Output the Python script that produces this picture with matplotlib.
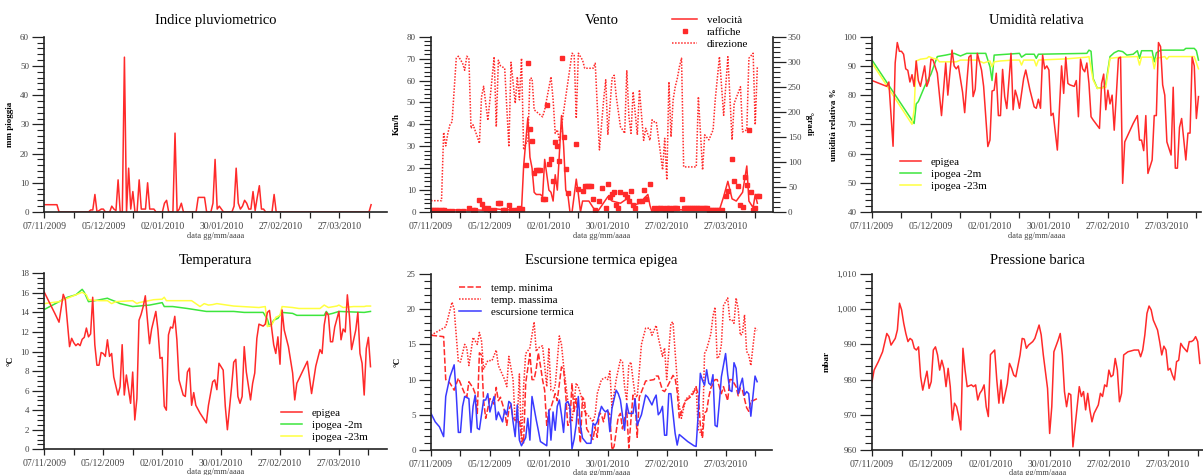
import numpy as np
import matplotlib
matplotlib.use('Agg')
import matplotlib.pyplot as plt
import matplotlib.dates as mdates
from matplotlib.ticker import MultipleLocator, FixedLocator, FuncFormatter
from matplotlib.lines import Line2D

plt.rcParams['font.family'] = ['Liberation Serif', 'DejaVu Serif']

START = np.datetime64('2009-11-07')

# ---------------- data (day offset from 07/11/2009, value) ----------------
rain_day = [0,6,7,21,22,23,24,25,27,28,29,31,32,33,34,35,36,37,38,39,40,41,42,43,44,45,46,47,48,49,50,51,52,53,
            56,57,58,59,61,62,63,64,65,66,72,73,74,75,76,77,79,80,81,82,83,84,85,
            89,90,91,92,93,94,95,96,97,98,99,100,101,102,103,104,105,108,109,110,154,155]
rain_mm = [2.5,2.5,0,0,0.7,0.7,6,0,1,1,0,0,2,1,0.5,11,0,0,53,0,15,1,7,0,0,11,1,1,1,10,1,1,1,0,
           0,3,4,0,0,27,0,1,3,0,0,5,5,5,5,0,0,3,18,1,2,1,0,
           0,2,15,3,1,2,4,3,1,1,7,0.5,5,9,1,1,0,0,6,0,0,2.5]

wind_speed = [(0,1),(5,0.8),(10,1),(15,0.8),(20,1),(25,0.8),(30,1.5),(35,1),(40,1),(43,1),(44,21),(46,43),
              (47,25),(48,20),(49,9),(50,8),(52,8),(53,7),(54,24),(56,10),(57,9),(58,5),(59,17),(60,10),
              (62,44),(63,30),(64,10),(65,8),(66,0),(67,0),(69,15),(70,8),(71,0),(72,5),(75,5),(77,2),
              (79,0),(84,7),(86,5),(90,4),(93,6),(96,3),(99,4),(103,8),(104,3),(105,0),(112,0),(115,1),
              (137,1),(139,7),(141,14),(143,6),(145,5),(148,9),(150,21),(151,5),(153,2),(154,8),(155,4)]

wind_gust = [(0,1),(1,1),(2,1),(3,1),(4,1),(5,1),(6,1),(8,0.5),(10,0.5),(13,0.5),(15,0.5),(18,2),(20,1),
             (21,1),(23,5.5),(24,3.5),(25,2),(26,1.5),(27,2),(28,1),(30,1),(32,4),(33,4),(34,1),(35,1),
             (37,3),(38,1),(40,1),(41,1),(42,2),(43,1.5),(45,21.5),(46,68),(47,38),(48,32.5),(49,18),
             (50,19),(51,19),(52,19),(53,6),(54,6),(55,49),(56,22),(57,24),(58,14),(59,32),(60,30),
             (61,23.5),(62,70.5),(63,34),(64,19.5),(65,8.5),(69,31),(70,10.5),(72,9.5),(73,12),(74,12),
             (75,12),(76,12),(77,6),(78,1),(80,5),(81,11),(83,2),(84,13),(85,7),(86,8),(87,9),(88,3),
             (89,2),(90,9),(92,8),(93,7),(94,5),(95,9.5),(96,3),(97,2),(99,5),(100,5),(101,10),(102,6),
             (104,13),(106,2),(107,1.5),(108,2),(109,2),(110,2),(111,1.5),(112,2),(113,2),(114,1.5),
             (115,2),(116,2),(117,2),(119,6),(120,2),(121,2),(122,2),(123,2),(124,2),(125,2),(126,2),
             (127,2),(128,2),(129,2),(130,2),(131,2),(132,1),(133,1),(134,1),(135,1),(136,1),(137,1),
             (138,1),(140,7.5),(141,9.5),(143,24),(144,14),(146,12),(147,3),(148,2.5),(149,16),
             (150,12.5),(151,37.5),(152,9),(153,1),(154,2),(155,7.5),(156,7.5)]

wind_dir = [(0,22.6),(5,22.6),(6,159),(7,132),(8,157),(9,174),(10,180),(12,307),(13,311),(15,297),(16,283),
            (17,311),(18,307),(19,167),(20,174),(22,150),(23,137),(24,230),(25,251),(27,183),(28,224),
            (30,310),(31,170),(32,303),(33,292),(35,287),(37,130),(38,299),(40,217),(41,270),(42,224),
            (43,307),(44,124),(45,137),(46,139),(47,267),(48,267),(49,204),(51,197),(53,190),(54,204),
            (57,270),(58,224),(59,157),(60,164),(61,143),(67,317),(68,314),(69,187),(70,317),(72,303),
            (73,287),(77,287),(78,297),(80,124),(82,224),(83,264),(84,154),(86,267),(87,273),(88,230),
            (90,170),(91,164),(92,157),(93,283),(94,190),(95,157),(96,240),(98,154),(99,244),(101,143),
            (102,167),(104,143),(105,184),(106,180),(107,180),(109,117),(110,84),(111,147),(112,64),
            (113,260),(114,150),(115,224),(116,250),(117,267),(118,290),(119,307),(120,90),(126,90),
            (127,230),(129,84),(130,154),(132,144),(134,164),(135,224),(137,310),(139,193),(141,310),
            (143,144),(144,217),(147,250),(148,160),(150,164),(151,307),(153,317),(154,174),(155,290)]

hum_epigea = [(0,85),(7,83),(8,84.5),(10,62.5),(11,91),(12,98),(13,95),(14,95),(15,94),(16,89),(17,88.5),
              (18,84.5),(19,87),(20,83),(21,91.7),(22,85),(23,83),(25,90),(26,83),(27,85),(28,92.3),
              (29,92),(31,87.5),(33,73),(34,82),(35,91),(36,80),(38,95.4),(39,90),(40,89),(41,90),
              (43,81),(44,74),(45,84),(46,93),(47,93.7),(48,79.5),(49,82),(50,94.3),(52,88.6),(53,83),
              (55,62.4),(56,64.6),(57,81.4),(58,81.7),(59,87.5),(60,73),(61,73),(62,88.8),(63,79.5),
              (64,75.4),(66,94.3),(67,75),(68,81.7),(69,79.2),(70,75.5),(72,85.7),(73,88.6),(75,81.7),
              (77,76),(78,75.5),(79,78.6),(80,75.5),(81,93.7),(82,89),(83,90),(84,88.6),(85,73),
              (86,73.8),(88,61.2),(90,90),(91,80.6),(92,93),(93,84),(94,83.5),(96,83),(97,85),(98,72.6),
              (99,92.3),(100,89),(101,88),(102,91),(103,84),(104,72.6),(105,71.5),(108,68.6),(109,84),
              (110,87.2),(111,75),(112,81.7),(113,77),(114,80),(115,68),(116,80),(117,92.6),(118,93),
              (119,49.8),(120,64),(124,70.3),(126,73),(127,64.6),(128,64.6),(129,61),(130,73),
              (131,53.2),(133,57.8),(134,73),(135,73),(136,98),(137,96.6),(138,83.5),(139,80),(140,64),
              (142,59.5),(143,82.7),(144,55),(145,55),(146,69),(147,72),(149,57.8),(150,67),(151,67),
              (152,93),(153,90),(154,72),(155,79.5)]

hum_ipo2 = [(0,92),(20,70.3),(21,77),(22,77.8),(25,83),(28,87.2),(31,93.2),(35,93.7),(39,94.3),(42,93.4),
            (45,94.3),(54,94.3),(56,89.7),(57,85),(58,93.7),(70,94.3),(71,93),(73,94),(77,94),(78,92.6),
            (79,94),(102,94.3),(103,95.4),(104,95),(105,85.7),(107,82.3),(110,82.7),(111,84),(113,93.2),
            (115,94.5),(117,95.2),(119,94.9),(121,93.7),(124,94),(126,95.2),(127,92.6),(128,95.2),
            (133,95.2),(134,91.4),(135,94.5),(137,95.4),(148,95.4),(149,96),(153,96),(154,95.2),(155,92)]

hum_ipo23 = [(0,91),(19,70),(20,75),(21,91.7),(23,92.3),(26,92.6),(27,93.2),(29,92.6),(31,92.3),(32,91.4),
             (37,91.4),(40,91.4),(42,92),(50,92),(53,91),(56,91.7),(57,89.7),(58,91.4),(61,91.7),(67,92),
             (70,92),(71,90.3),(72,92),(77,92),(78,90),(79,92),(92,92.4),(102,93),(103,93.2),(105,85.2),
             (107,82.3),(111,82.7),(113,92.6),(118,93),(126,93.2),(127,90.3),(128,93),(133,93),(134,89),
             (135,92.6),(139,93.2),(140,92.3),(141,93.2),(153,93.2),(155,89)]

temp_epigea = [(0,16.06),(5,13.9),(7,13),(9,15.85),(10,15.3),(11,12.9),(12,10.5),(13,11.35),(14,10.9),
               (15,10.6),(16,10.8),(17,10.6),(18,11.25),(19,11.45),(20,12.4),(21,11.5),(22,11.8),(23,15.55),
               (24,10.7),(25,8.6),(26,8.6),(27,9.9),(28,9.8),(29,9.5),(30,11.2),(31,9.5),(32,9.8),(33,7.4),
               (35,5.55),(36,6.4),(37,10.7),(38,5.55),(39,7.6),(41,4.7),(42,7.9),(43,3),(44,5.2),(45,13.2),
               (46,13.8),(47,14.6),(48,15.7),(50,10.8),(51,12.3),(53,14.1),(54,12.2),(55,9.3),(56,9.4),
               (57,4.4),(58,4),(59,11.7),(60,12.5),(61,12.4),(62,13.6),(63,11.2),(64,7.1),(66,5.55),(67,5.4),
               (68,7.9),(69,8.3),(70,4.5),(71,5.8),(72,4.5),(74,3.7),(77,2.7),(78,4.5),(80,6.9),(81,7.1),
               (82,6.1),(83,8.8),(85,8.1),(86,4.4),(87,2),(89,6.4),(90,8.9),(91,9.2),(92,5.4),(93,4.7),
               (94,5.4),(95,10.5),(96,7.9),(98,5.05),(99,6.75),(100,7.8),(101,11.35),(102,12.8),(104,12.6),
               (105,12.8),(106,14),(107,14.2),(109,10.7),(110,9.8),(111,11.5),(112,8.7),(113,14.25),
               (114,12.2),(116,10.5),(118,7.8),(119,5.05),(120,6.75),(125,9),(127,5.7),(128,7.1),(129,8.5),
               (131,10.2),(132,9.8),(133,12.7),(134,14),(135,13.7),(136,11),(137,11),(138,12.5),(140,14.1),
               (141,11.2),(142,12.3),(143,12),(144,15.8),(145,13.6),(146,10.2),(148,12.2),(149,14),
               (150,9.8),(151,8.8),(152,5.55),(153,10.3),(154,11.45),(155,8.45)]

temp_ipo2 = [(0,14.3),(11,15.55),(15,15.8),(18,16.36),(19,16.06),(21,15.1),(24,15.2),(30,15.45),(31,15.35),
             (34,15.1),(36,14.9),(42,14.6),(50,14.75),(56,15),(57,14.6),(61,14.6),(68,14.4),(77,14.1),
             (90,14.1),(95,14),(104,14),(106,13.3),(107,12.6),(108,12.8),(109,13.2),(111,13.4),(113,14),
             (118,13.9),(120,13.7),(133,13.7),(134,14.1),(135,13.8),(137,13.9),(140,14.1),(152,14),(155,14.1)]

temp_ipo23 = [(0,14.9),(7,15.1),(18,16.06),(20,15.8),(21,15.3),(26,15.2),(30,15.2),(32,14.9),(34,15.1),
              (42,15.2),(44,14.9),(45,15),(52,15.3),(56,15.35),(57,15.55),(58,15.2),(70,15.2),(72,14.9),
              (74,14.6),(76,14.9),(78,14.75),(80,14.8),(82,14.9),(90,14.65),(102,14.5),(105,14.6),
              (106,12.55),(108,12.7),(110,13.5),(112,13.7),(113,14.6),(118,14.5),(121,14.4),(131,14.4),
              (133,14.75),(135,14.5),(139,14.65),(140,14.75),(142,14.5),(147,14.6),(152,14.6),(153,14.65),
              (155,14.65)]

tmin = [(0,16.3),(6,16.1),(7,10),(9,9.5),(11,8.5),(13,10.2),(16,8),(17,7.5),(18,9.7),(20,8.8),(21,8),(22,5.2),
        (23,13.8),(24,13.5),(25,7),(26,4.5),(28,7.3),(30,6.5),(31,8.9),(32,7),(33,7.5),(35,5.5),(36,3.5),
        (37,5.7),(38,6.4),(39,4.5),(40,4.3),(42,4.2),(43,2),(44,1),(45,9.5),(47,13.7),(48,10),(49,10),
        (50,11.5),(51,13.8),(52,12),(53,10),(54,8.5),(55,3.5),(56,5.5),(57,6),(59,8),(60,7),(62,11.8),
        (63,11.5),(64,8),(65,3.5),(66,3.7),(67,9.5),(68,5.5),(69,7.3),(71,1),(72,7.5),(73,7),(74,3),
        (75,2.5),(77,1.5),(78,3.3),(79,1.8),(80,5.3),(81,5),(82,4),(83,5.5),(84,5.5),(85,5),(86,0),
        (87,0.5),(89,4.7),(90,5.2),(91,3),(93,5.8),(94,0.3),(95,4.2),(96,7.8),(97,7),(98,1.8),(99,7.5),
        (101,9),(102,9.8),(104,9.9),(106,10),(107,10.5),(108,10.5),(110,8.5),(111,8.3),(112,8.8),
        (114,10),(115,10.6),(116,10.2),(117,8.3),(118,4.5),(120,6.3),(121,7),(124,7.7),(126,8.9),
        (127,7.8),(128,3.5),(129,1.8),(130,5.3),(131,5.5),(132,7.5),(133,8.8),(135,10),(136,10),(137,9),
        (138,8),(139,9),(141,7),(142,10),(143,10),(145,9),(146,7.7),(147,8.8),(148,8.5),(150,6),
        (151,5.5),(152,7),(153,7),(155,7.3)]

tmax = [(0,16.3),(7,17.5),(10,21),(11,20),(13,12.5),(14,12.5),(16,15),(17,14.5),(18,12),(20,16),(22,15),
        (23,16.7),(24,15.5),(25,11.5),(27,12.7),(29,12.7),(31,14.2),(32,12),(35,10),(36,9),(37,13.3),
        (39,10),(40,4),(41,4),(42,10.8),(43,1),(44,9),(45,13.7),(47,14.5),(49,18.2),(50,14),(51,14.5),
        (53,14.8),(54,12),(55,9),(56,14.5),(57,8.5),(58,8.4),(59,9),(61,16.2),(62,15),(63,12),(65,7),
        (66,5.5),(67,4),(69,9.5),(70,9),(72,7),(73,5.5),(75,4.8),(77,4),(78,5),(79,8),(81,10),(83,10.3),
        (84,10),(85,11.2),(86,6),(88,10),(90,12.8),(91,12.5),(92,9),(93,7),(94,12),(95,12.5),(96,10),
        (97,7.8),(98,7.5),(100,15),(102,17.3),(104,17.3),(105,16.3),(107,17.7),(108,16),(110,13.3),
        (111,14.5),(112,10),(113,14),(114,18),(115,18.2),(116,14),(117,10),(118,6.3),(119,4.5),
        (121,7.2),(124,8),(126,9),(127,3),(129,1.9),(130,13.7),(131,14.3),(133,16.5),(134,19),
        (135,20.3),(136,13),(137,13.3),(138,15),(139,20.5),(141,21.6),(142,18.5),(143,18.5),(144,18),
        (145,21.6),(146,20),(147,16.3),(148,16.5),(149,19.2),(150,14),(151,13.5),(152,12),(154,17.3),
        (155,17)]

texc = [(0,5.2),(2,4),(4,3.3),(6,1.9),(7,7.6),(9,10.4),(11,12.1),(12,8),(13,2.5),(14,2.5),(15,6.2),(16,7.6),
        (18,7.3),(19,2.5),(20,6.2),(21,7.8),(22,3.1),(23,2.9),(25,7.1),(26,7.1),(27,8),(28,5.4),(29,6.6),
        (30,7.6),(31,4.3),(32,5.4),(34,4),(35,5.7),(36,5),(37,6.9),(38,6.6),(39,4),(40,1.9),(41,6.4),
        (42,1.4),(43,0.6),(45,1.75),(46,4.5),(47,1.4),(48,7.6),(50,4.3),(51,2.8),(52,1.2),(55,0.6),
        (56,5.7),(57,1.4),(58,5.4),(59,2.8),(60,6.2),(61,7.1),(62,5),(63,2.5),(64,6.6),(65,6.9),(66,6.2),
        (67,0.15),(68,1.5),(69,3.6),(70,7.6),(71,3.5),(72,1.7),(74,0.95),(76,0.95),(77,3.8),(78,3.5),
        (79,4),(81,6.2),(82,5.7),(83,5.4),(84,5.7),(85,2.6),(86,5.9),(88,8.5),(89,8),(90,7.1),(92,2.8),
        (93,6.6),(94,5.2),(96,5.2),(97,7.3),(98,3.5),(99,4.3),(100,5),(102,7.8),(103,7.5),(105,6.4),
        (106,7.2),(107,7.8),(108,5),(109,5.4),(110,6.2),(111,2.1),(112,2.1),(113,8),(114,8),(115,5.2),
        (116,2.4),(117,0.7),(118,2.2),(120,1.7),(122,1.2),(125,0.6),(126,0.5),(127,5.2),(128,10.9),
        (129,9.9),(130,9.2),(131,11.4),(132,9.5),(133,9.2),(134,10.7),(135,3.5),(136,3.3),(137,6.6),
        (138,10.4),(140,13.7),(141,10.7),(142,8.5),(143,8.3),(144,12.4),(145,11.6),(146,8),(147,9.2),
        (148,10.2),(149,7.8),(150,8.3),(151,8),(152,4.8),(154,10.5),(155,9.7)]

pressure = [(0,979.4),(1,982.7),(3,985.1),(5,987.9),(7,993.1),(8,992.2),(9,989.8),(11,991.7),(12,994.1),
            (13,1001.7),(14,999.8),(15,996),(16,993.1),(17,990.8),(18,991.7),(19,991.2),(20,988.9),
            (21,988.4),(22,989.3),(23,980.8),(24,977),(25,979.8),(26,982.4),(27,977.5),(28,979.4),
            (29,988.4),(30,989.3),(31,987),(32,982.7),(33,985.5),(34,983.2),(35,978),(36,983.2),(37,978),
            (38,968.5),(39,973.3),(40,972.3),(41,969.5),(42,965.7),(43,988.9),(44,982.7),(45,978),
            (47,978.5),(48,978),(49,978.5),(50,974.2),(51,976.1),(52,977),(53,978.5),(54,972.3),
            (55,969.5),(56,987.1),(58,988.4),(59,979.9),(60,973.3),(61,979.9),(62,973.3),(64,978.9),
            (65,984.6),(66,983.2),(67,981.3),(68,980.8),(70,987),(71,991.7),(72,991.5),(73,988.9),
            (74,989.8),(76,990.8),(77,991.7),(78,993.6),(79,995.5),(80,992.7),(81,987),(83,977.5),
            (84,964.7),(85,972.3),(86,987.9),(88,991.2),(89,993.1),(90,987),(91,976.6),(92,972.3),
            (93,976.1),(94,975.7),(95,960.9),(96,966.6),(98,978),(99,975.2),(100,976.6),(101,971.4),
            (102,976.1),(103,971.4),(104,968),(105,970.4),(107,972.8),(108,976.1),(109,975.2),(110,978.5),
            (111,978),(112,982.7),(113,980.8),(114,981.3),(115,986),(116,982.7),(117,973.7),(118,976.1),
            (119,987),(121,987.9),(124,988.4),(126,988.4),(127,986.5),(128,988.4),(129,992.7),(130,998.8),
            (131,1000.9),(132,999.8),(133,996.9),(135,994.1),(136,990.8),(137,987),(138,989.5),
            (139,988.4),(140,982.7),(141,983.2),(142,981.3),(143,979.9),(144,985.1),(145,985.5),
            (146,990.3),(147,989.3),(149,987.9),(150,990.8),(151,990.8),(152,991.2),(153,992.2),
            (154,990.8),(155,984.6)]

# ---------------- styling ----------------
RED = '#ff2a2a'
GREEN = '#3de63d'
YELLOW = '#ffff40'
BLUE = '#3a3aff'
TICKC = '#444444'
W, H = 1203, 475
LEG_FS = 8


def xy(series):
    arr = np.array(series, dtype=float)
    return START + arr[:, 0].astype(int).astype('timedelta64[D]'), arr[:, 1]


def make_ax(fig, left, top, right, bottom, xspan):
    ax = fig.add_axes([left / W, 1 - bottom / H, (right - left) / W, (bottom - top) / H])
    for s in ('top', 'right'):
        ax.spines[s].set_visible(False)
    for s in ('left', 'bottom'):
        ax.spines[s].set_color('#222222')
        ax.spines[s].set_linewidth(1.2)
        ax.spines[s].set_zorder(5)
    x0 = mdates.date2num(START)
    ax.set_xlim(x0, x0 + xspan)
    major = mdates.date2num(START + np.arange(0, 141, 28).astype('timedelta64[D]'))
    minor = mdates.date2num(START + np.arange(14, 160, 28).astype('timedelta64[D]'))
    ax.xaxis.set_major_locator(FixedLocator(major))
    ax.xaxis.set_minor_locator(FixedLocator(minor))
    ax.xaxis.set_major_formatter(mdates.DateFormatter('%d/%m/%Y'))
    ax.tick_params(axis='x', which='both', direction='out', length=4, width=0.9, color='#222222',
                   labelsize=7, labelcolor=TICKC, pad=3)
    ax.tick_params(axis='y', which='major', direction='out', length=9, width=0.9, color='#222222',
                   labelsize=6.5, labelcolor=TICKC, pad=2)
    ax.tick_params(axis='y', which='minor', direction='out', length=5, width=0.8, color='#222222')
    ax.patch.set_alpha(0)
    return ax


def finish(ax, title, ylabel, pad_title, xl_pad):
    ax.set_title(title, fontsize=10.5, pad=pad_title)
    ax.set_ylabel(ylabel, fontsize=6.5, fontweight='bold', labelpad=4)
    ax.set_xlabel('data gg/mm/aaaa', fontsize=6, color=TICKC, labelpad=xl_pad)


def put_legend(ax, x, y, hl, handles=None, labels=None):
    kw = dict(loc='upper left', bbox_to_anchor=(x / W, 1 - y / H), bbox_transform=fig.transFigure,
              frameon=False, fontsize=LEG_FS, handlelength=hl, handletextpad=0.9, labelspacing=0.22,
              borderpad=0, borderaxespad=0)
    if handles is None:
        return ax.legend(**kw)
    return ax.legend(handles, labels, **kw)


fig = plt.figure(figsize=(W / 100, H / 100), dpi=100)
fig.patch.set_facecolor('white')

LW = 1.1

# 1 Rain
ax1 = make_ax(fig, 44.3, 36.7, 386.7, 212, 162.4)
ax1.plot(START + np.array(rain_day).astype('timedelta64[D]'), rain_mm, color=RED, lw=LW)
ax1.set_ylim(0, 60)
ax1.yaxis.set_major_locator(MultipleLocator(10))
ax1.yaxis.set_minor_locator(MultipleLocator(2))
finish(ax1, 'Indice pluviometrico', 'mm pioggia', 9, 1)

# 2 Wind
ax2 = make_ax(fig, 431, 36.7, 772.7, 212, 162.3)
ax2b = ax2.twinx()
ax2b.set_position(ax2.get_position())
for s in ('top', 'left', 'bottom'):
    ax2b.spines[s].set_visible(False)
ax2b.spines['right'].set_color('#222222')
ax2b.spines['right'].set_linewidth(1.2)
d, v = xy(wind_dir)
ax2b.plot(d, v, color=RED, lw=LW, ls=(0, (1, 1)))
ax2b.set_ylim(0, 350)
ax2b.yaxis.set_major_locator(MultipleLocator(50))
ax2b.yaxis.set_minor_locator(MultipleLocator(10))
ax2b.tick_params(axis='y', which='major', direction='out', length=9, width=0.9, color='#222222',
                 labelsize=6.5, labelcolor=TICKC, pad=2)
ax2b.tick_params(axis='y', which='minor', direction='out', length=5, width=0.8, color='#222222')
ax2b.set_ylabel('°gradi', fontsize=6.5, fontweight='bold', rotation=270, labelpad=8)
d, v = xy(wind_speed)
ax2.plot(d, v, color=RED, lw=LW, zorder=3)
d, v = xy(wind_gust)
ax2.plot(d, v, ls='none', marker='s', ms=3.4, color=RED, mec=RED, zorder=3)
ax2.set_ylim(0, 80)
ax2.yaxis.set_major_locator(MultipleLocator(10))
ax2.yaxis.set_minor_locator(MultipleLocator(2))
finish(ax2, 'Vento', 'Km/h', 9, 1)
ax2.set_zorder(ax2b.get_zorder() + 1)
leg_h = [Line2D([], [], color=RED, lw=LW),
         Line2D([], [], ls='none', marker='s', ms=3.2, color=RED),
         Line2D([], [], color=RED, lw=LW, ls=(0, (1, 1)))]
put_legend(ax2, 672, 15, 2.25, leg_h, ['velocità', 'raffiche', 'direzione'])

# 3 Humidity
ax3 = make_ax(fig, 872, 36.7, 1201, 212, 156.2)
d, v = xy(hum_epigea)
ax3.plot(d, v, color=RED, lw=LW, label='epigea', zorder=3)
d, v = xy(hum_ipo2)
ax3.plot(d, v, color=GREEN, lw=LW, label='ipogea -2m')
d, v = xy(hum_ipo23)
ax3.plot(d, v, color=YELLOW, lw=LW, label='ipogea -23m')
ax3.set_ylim(40, 100)
ax3.yaxis.set_major_locator(MultipleLocator(10))
ax3.yaxis.set_minor_locator(MultipleLocator(2))
finish(ax3, 'Umidità relativa', 'umidità relativa %', 9, 1)
put_legend(ax3, 900, 157, 1.9)

# 4 Temperature
ax4 = make_ax(fig, 44.3, 273.3, 386.7, 449.3, 162.7)
d, v = xy(temp_epigea)
ax4.plot(d, v, color=RED, lw=LW, label='epigea', zorder=3)
d, v = xy(temp_ipo2)
ax4.plot(d, v, color=GREEN, lw=LW, label='ipogea -2m')
d, v = xy(temp_ipo23)
ax4.plot(d, v, color=YELLOW, lw=LW, label='ipogea -23m')
ax4.set_ylim(0, 18)
ax4.yaxis.set_major_locator(MultipleLocator(2))
ax4.yaxis.set_minor_locator(MultipleLocator(0.5))
finish(ax4, 'Temperatura', '°C', 7, 0)
put_legend(ax4, 281, 408, 1.9)

# 5 Thermal excursion
ax5 = make_ax(fig, 431, 274, 772.3, 450, 162.2)
d, v = xy(tmin)
ax5.plot(d, v, color=RED, lw=LW, ls=(0, (4, 1.5)), label='temp. minima')
d, v = xy(tmax)
ax5.plot(d, v, color=RED, lw=LW, ls=(0, (1, 1)), label='temp. massima')
d, v = xy(texc)
ax5.plot(d, v, color=BLUE, lw=LW, label='escursione termica')
ax5.set_ylim(0, 25)
ax5.yaxis.set_major_locator(MultipleLocator(5))
ax5.yaxis.set_minor_locator(MultipleLocator(1))
finish(ax5, 'Escursione termica epigea', '°C', 7, 0)
put_legend(ax5, 459, 283, 2.0)

# 6 Pressure
ax6 = make_ax(fig, 872, 274, 1203, 450, 156.5)
d, v = xy(pressure)
ax6.plot(d, v, color=RED, lw=LW)
ax6.set_ylim(960, 1010)
ax6.yaxis.set_major_locator(MultipleLocator(10))
ax6.yaxis.set_minor_locator(MultipleLocator(2))
ax6.yaxis.set_major_formatter(FuncFormatter(lambda val, pos: f'{val:,.0f}'))
finish(ax6, 'Pressione barica', 'mbar', 7, 0)

fig.savefig('out.png', dpi=100, facecolor='white')
